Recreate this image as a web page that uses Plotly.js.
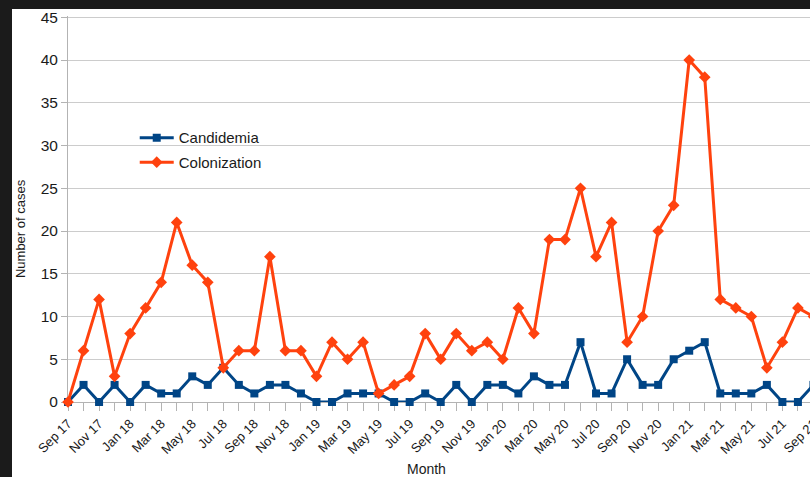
<!DOCTYPE html>
<html>
<head>
<meta charset="utf-8">
<script src="https://cdn.plot.ly/plotly-3.0.1.min.js"></script>
<style>
  html, body { margin: 0; padding: 0; background: #1b1b1b; overflow: hidden; width: 810px; height: 477px; }
  #chart { position: absolute; left: 12px; top: 9px; width: 860px; height: 468px; }
</style>
</head>
<body>
<div id="chart"></div>
<script>
// Monthly case counts, Sep 2017 - Sep 2021
const months = [
  "Sep 17","Oct 17","Nov 17","Dec 17",
  "Jan 18","Feb 18","Mar 18","Apr 18","May 18","Jun 18","Jul 18","Aug 18","Sep 18","Oct 18","Nov 18","Dec 18",
  "Jan 19","Feb 19","Mar 19","Apr 19","May 19","Jun 19","Jul 19","Aug 19","Sep 19","Oct 19","Nov 19","Dec 19",
  "Jan 20","Feb 20","Mar 20","Apr 20","May 20","Jun 20","Jul 20","Aug 20","Sep 20","Oct 20","Nov 20","Dec 20",
  "Jan 21","Feb 21","Mar 21","Apr 21","May 21","Jun 21","Jul 21","Aug 21","Sep 21"
];

const candidemia = [
  0, 2, 0, 2,
  0, 2, 1, 1, 3, 2, 4, 2, 1, 2, 2, 1,
  0, 0, 1, 1, 1, 0, 0, 1, 0, 2, 0, 2,
  2, 1, 3, 2, 2, 7, 1, 1, 5, 2, 2, 5,
  6, 7, 1, 1, 1, 2, 0, 0, 2
];

const colonization = [
  0, 6, 12, 3,
  8, 11, 14, 21, 16, 14, 4, 6, 6, 17, 6, 6,
  3, 7, 5, 7, 1, 2, 3, 8, 5, 8, 6, 7,
  5, 11, 8, 19, 19, 25, 17, 21, 7, 10, 20, 23,
  40, 38, 12, 11, 10, 4, 7, 11, 10
];

const seriesNames = ["Candidemia", "Colonization"];
const yTicks = [0, 5, 10, 15, 20, 25, 30, 35, 40, 45];

// every month gets a tick, every second month gets a label
const monthTickText = months.map((m, i) => (i % 2 === 0 ? m : ""));

const FONT = "Liberation Sans, Arial, sans-serif";

const traces = [
  {
    x: months, y: candidemia, name: seriesNames[0], legendgroup: "a",
    type: "scatter", mode: "lines+markers",
    line: { color: "#004586", width: 3 },
    marker: { symbol: "square", size: 8, color: "#004586" },
    cliponaxis: false
  },
  {
    x: months, y: colonization, name: seriesNames[1], legendgroup: "b",
    type: "scatter", mode: "lines+markers",
    line: { color: "#ff420e", width: 3 },
    marker: { symbol: "diamond", size: 9, color: "#ff420e" },
    cliponaxis: false
  }
];

const layout = {
  width: 860, height: 468,
  margin: { l: 56, r: 0, t: 7, b: 75 },
  paper_bgcolor: "#ffffff",
  plot_bgcolor: "#ffffff",
  font: { family: FONT, color: "#1a1a1a" },
  showlegend: true,
  legend: {
    x: 0.083, y: 0.727, xanchor: "left", yanchor: "top",
    bgcolor: "rgba(0,0,0,0)",
    font: { family: FONT, size: 15, color: "#1a1a1a" },
    itemwidth: 34,
    tracegroupgap: 2
  },
  xaxis: {
    type: "category",
    range: [0, 51.77],
    tickmode: "array",
    tickvals: months,
    ticktext: monthTickText,
    tickangle: -45,
    ticks: "outside", ticklen: 8, tickcolor: "#b3b3b3", tickwidth: 1,
    tickfont: { family: FONT, size: 13, color: "#1a1a1a" },
    showgrid: false,
    showline: true, linecolor: "#b3b3b3", linewidth: 1,
    zeroline: false,
    layer: "below traces",
    fixedrange: true
  },
  yaxis: {
    range: [0, 45.15],
    tickmode: "array",
    tickvals: yTicks,
    ticks: "outside", ticklen: 6, tickcolor: "#b3b3b3", tickwidth: 1,
    tickfont: { family: FONT, size: 15.5, color: "#1a1a1a" },
    ticklabeloverflow: "allow",
    showgrid: true, gridcolor: "#cccccc", gridwidth: 1,
    showline: true, linecolor: "#b3b3b3", linewidth: 1,
    zeroline: false,
    layer: "below traces",
    fixedrange: true
  },
  annotations: [
    {
      text: "Number of cases", xref: "paper", yref: "paper",
      x: 0, y: 0.448, xshift: -48, xanchor: "center", yanchor: "middle",
      textangle: -90, showarrow: false,
      font: { family: FONT, size: 13, color: "#1a1a1a" }
    },
    {
      text: "Month", xref: "paper", yref: "paper",
      x: 0.4465, y: -0.174, xanchor: "center", yanchor: "middle",
      showarrow: false,
      font: { family: FONT, size: 14, color: "#1a1a1a" }
    }
  ]
};

Plotly.newPlot("chart", traces, layout, { displayModeBar: false, staticPlot: true });
</script>
</body>
</html>
